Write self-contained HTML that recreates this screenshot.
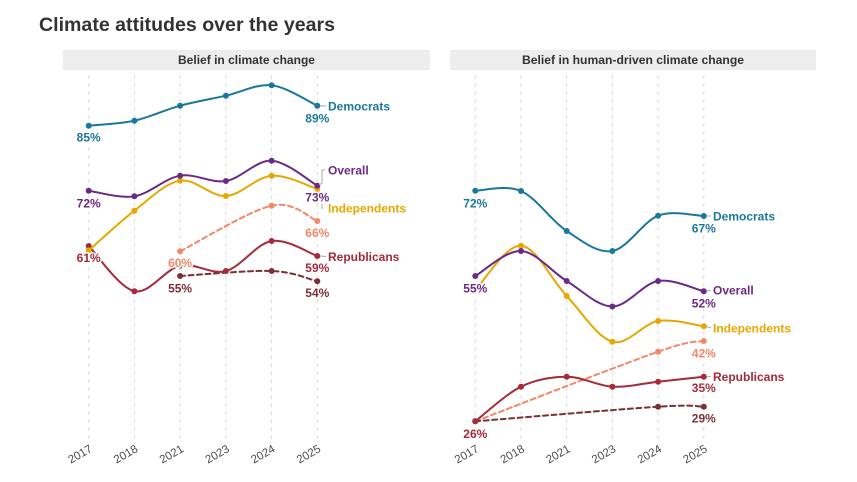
<!DOCTYPE html>
<html><head><meta charset="utf-8"><style>
html,body{margin:0;padding:0;background:#fff;}
svg{display:block;}
text{font-family:"Liberation Sans",sans-serif;}
.lab{font-weight:bold;font-size:12px;paint-order:stroke;stroke:#fff;stroke-width:3px;stroke-linejoin:round;}
.tick{font-size:11.5px;fill:#4d4d4d;}
</style></head><body>
<svg id="c" width="857" height="482" viewBox="0 0 857 482" xmlns="http://www.w3.org/2000/svg">
<rect width="857" height="482" fill="#fff"/>
<text x="39" y="31" font-size="19" font-weight="bold" fill="#333" textLength="296" lengthAdjust="spacingAndGlyphs">Climate attitudes over the years</text>
<rect x="63" y="50" width="367" height="20" fill="#ededed"/>
<rect x="450" y="50" width="366" height="20" fill="#ededed"/>
<text x="246.5" y="64" font-size="11.5" font-weight="bold" fill="#333" text-anchor="middle" textLength="137" lengthAdjust="spacingAndGlyphs">Belief in climate change</text>
<text x="633" y="64" font-size="11.5" font-weight="bold" fill="#333" text-anchor="middle" textLength="222" lengthAdjust="spacingAndGlyphs">Belief in human-driven climate change</text>
<g id="grid" stroke="#dcdcdc" stroke-width="1" stroke-dasharray="4,4"></g>
<g id="series"></g>
<g stroke="#aaa" stroke-width="1" fill="none">
<line x1="320" y1="105.7" x2="326" y2="106"/>
<polyline points="319,185 322,183 322,170 325,170"/>
<line x1="322" y1="204" x2="322" y2="209"/>
<line x1="320" y1="256" x2="326" y2="256.5"/>
<line x1="706.5" y1="216" x2="711" y2="216"/>
<line x1="706.5" y1="291" x2="711" y2="290.5"/>
<line x1="706.5" y1="326.5" x2="711" y2="328"/>
<line x1="706.5" y1="376.7" x2="711" y2="376.7"/>
</g>
<g id="labels">
<!-- left panel -->
<text class="lab" x="88.7" y="141.5" text-anchor="middle" fill="#1a789c">85%</text>
<text class="lab" x="317.3" y="122.5" text-anchor="middle" fill="#1a789c">89%</text>
<text class="lab" x="328" y="110.5" fill="#1a789c">Democrats</text>
<text class="lab" x="88.7" y="207.5" text-anchor="middle" fill="#6b2a85">72%</text>
<text class="lab" x="317.3" y="201.5" text-anchor="middle" fill="#6b2a85">73%</text>
<text class="lab" x="328" y="174.5" fill="#6b2a85">Overall</text>
<text class="lab" x="328" y="212.5" fill="#e6a700">Independents</text>
<text class="lab" x="317.3" y="237" text-anchor="middle" fill="#f4876a">66%</text>
<text class="lab" x="88.7" y="262" text-anchor="middle" fill="#a52a3a">61%</text>
<text class="lab" x="180.1" y="267" text-anchor="middle" fill="#f4876a">60%</text>
<text class="lab" x="180.1" y="292.5" text-anchor="middle" fill="#7b3038">55%</text>
<text class="lab" x="328" y="261" fill="#a52a3a">Republicans</text>
<text class="lab" x="317.3" y="272" text-anchor="middle" fill="#a52a3a">59%</text>
<text class="lab" x="317.3" y="297" text-anchor="middle" fill="#7b3038">54%</text>
<!-- right panel -->
<text class="lab" x="475.3" y="207.5" text-anchor="middle" fill="#1a789c">72%</text>
<text class="lab" x="713" y="220.5" fill="#1a789c">Democrats</text>
<text class="lab" x="703.8" y="232.5" text-anchor="middle" fill="#1a789c">67%</text>
<text class="lab" x="475.3" y="292.5" text-anchor="middle" fill="#6b2a85">55%</text>
<text class="lab" x="713" y="294.5" fill="#6b2a85">Overall</text>
<text class="lab" x="703.8" y="307.5" text-anchor="middle" fill="#6b2a85">52%</text>
<text class="lab" x="713" y="332.5" fill="#e6a700">Independents</text>
<text class="lab" x="703.8" y="357.5" text-anchor="middle" fill="#f4876a">42%</text>
<text class="lab" x="713" y="381" fill="#a52a3a">Republicans</text>
<text class="lab" x="703.8" y="392" text-anchor="middle" fill="#a52a3a">35%</text>
<text class="lab" x="703.8" y="422.5" text-anchor="middle" fill="#7b3038">29%</text>
<text class="lab" x="475.3" y="438" text-anchor="middle" fill="#a52a3a">26%</text>
</g>
<g id="ticks">
<text class="tick" text-anchor="end" transform="translate(93,451) rotate(-30)">2017</text>
<text class="tick" text-anchor="end" transform="translate(138.7,451) rotate(-30)">2018</text>
<text class="tick" text-anchor="end" transform="translate(184.4,451) rotate(-30)">2021</text>
<text class="tick" text-anchor="end" transform="translate(230.2,451) rotate(-30)">2023</text>
<text class="tick" text-anchor="end" transform="translate(275.9,451) rotate(-30)">2024</text>
<text class="tick" text-anchor="end" transform="translate(321.6,451) rotate(-30)">2025</text>
<text class="tick" text-anchor="end" transform="translate(479.6,451) rotate(-30)">2017</text>
<text class="tick" text-anchor="end" transform="translate(525.3,451) rotate(-30)">2018</text>
<text class="tick" text-anchor="end" transform="translate(571,451) rotate(-30)">2021</text>
<text class="tick" text-anchor="end" transform="translate(616.7,451) rotate(-30)">2023</text>
<text class="tick" text-anchor="end" transform="translate(662.4,451) rotate(-30)">2024</text>
<text class="tick" text-anchor="end" transform="translate(708.1,451) rotate(-30)">2025</text>
</g>
</svg>
<script>
(function(){
var NS="http://www.w3.org/2000/svg";
var LX=[88.7,134.4,180.1,225.9,271.6,317.3];
var RX=[475.3,521,566.7,612.4,658.1,703.8];
var grid=document.getElementById('grid');
LX.concat(RX).forEach(function(x){
  var l=document.createElementNS(NS,'line');
  l.setAttribute('x1',x);l.setAttribute('x2',x);l.setAttribute('y1',75);l.setAttribute('y2',440);
  grid.appendChild(l);
});
var C={dem:"#1a789c",ov:"#6b2a85",ind:"#e6a700",rep:"#a52a3a",sal:"#f4876a",mar:"#7b3038"};
var S=[
 {X:LX,i:[2,4,5],y:[251.3,205.7,221],c:C.sal,d:1},
 {X:LX,i:[2,4,5],y:[276,271,281.3],c:C.mar,d:1},
 {X:RX,i:[0,4,5],y:[421.3,351.7,341],c:C.sal,d:1},
 {X:RX,i:[0,4,5],y:[421.3,406.7,406.7],c:C.mar,d:1},
 {X:LX,i:[0,1,2,3,4,5],y:[246,291.2,265.7,271,241,256],c:C.rep},
 {X:LX,i:[0,1,2,3,4,5],y:[250.5,210.7,180.7,196,175.7,189],c:C.ind},
 {X:LX,i:[0,1,2,3,4,5],y:[190.7,196.3,175.7,181,160.7,185.7],c:C.ov},
 {X:LX,i:[0,1,2,3,4,5],y:[125.7,120.7,105.7,95.7,85.3,105.7],c:C.dem},
 {X:RX,i:[0,1,2,3,4,5],y:[421.3,386.7,376.7,386.7,381.7,376.7],c:C.rep},
 {X:RX,i:[0,1,2,3,4,5],y:[290,245.7,296,341.7,321,326.3],c:C.ind},
 {X:RX,i:[0,1,2,3,4,5],y:[276,251,281,306.5,281,291.3],c:C.ov},
 {X:RX,i:[0,1,2,3,4,5],y:[190.7,191,231,251,215.7,216],c:C.dem}
];
var g=document.getElementById('series');
S.forEach(function(s){
  var P=s.i.map(function(k,j){return [s.X[k],s.y[j]];});
  var n=P.length, d="M"+P[0][0]+","+P[0][1];
  for(var j=0;j<n-1;j++){
    var p0=P[Math.max(j-1,0)],p1=P[j],p2=P[j+1],p3=P[Math.min(j+2,n-1)];
    var c1=[p1[0]+(p2[0]-p0[0])/6,p1[1]+(p2[1]-p0[1])/6];
    var c2=[p2[0]-(p3[0]-p1[0])/6,p2[1]-(p3[1]-p1[1])/6];
    d+=" C"+c1[0].toFixed(2)+","+c1[1].toFixed(2)+" "+c2[0].toFixed(2)+","+c2[1].toFixed(2)+" "+p2[0]+","+p2[1];
  }
  var p=document.createElementNS(NS,'path');
  p.setAttribute('d',d);p.setAttribute('fill','none');p.setAttribute('stroke',s.c);
  p.setAttribute('stroke-width','2');p.setAttribute('stroke-linecap','round');
  if(s.d)p.setAttribute('stroke-dasharray','5,3.5');
  g.appendChild(p);
  P.forEach(function(q){
    var c=document.createElementNS(NS,'circle');
    c.setAttribute('cx',q[0]);c.setAttribute('cy',q[1]);c.setAttribute('r',3);c.setAttribute('fill',s.c);
    g.appendChild(c);
  });
});
})();
</script>
</body></html>
